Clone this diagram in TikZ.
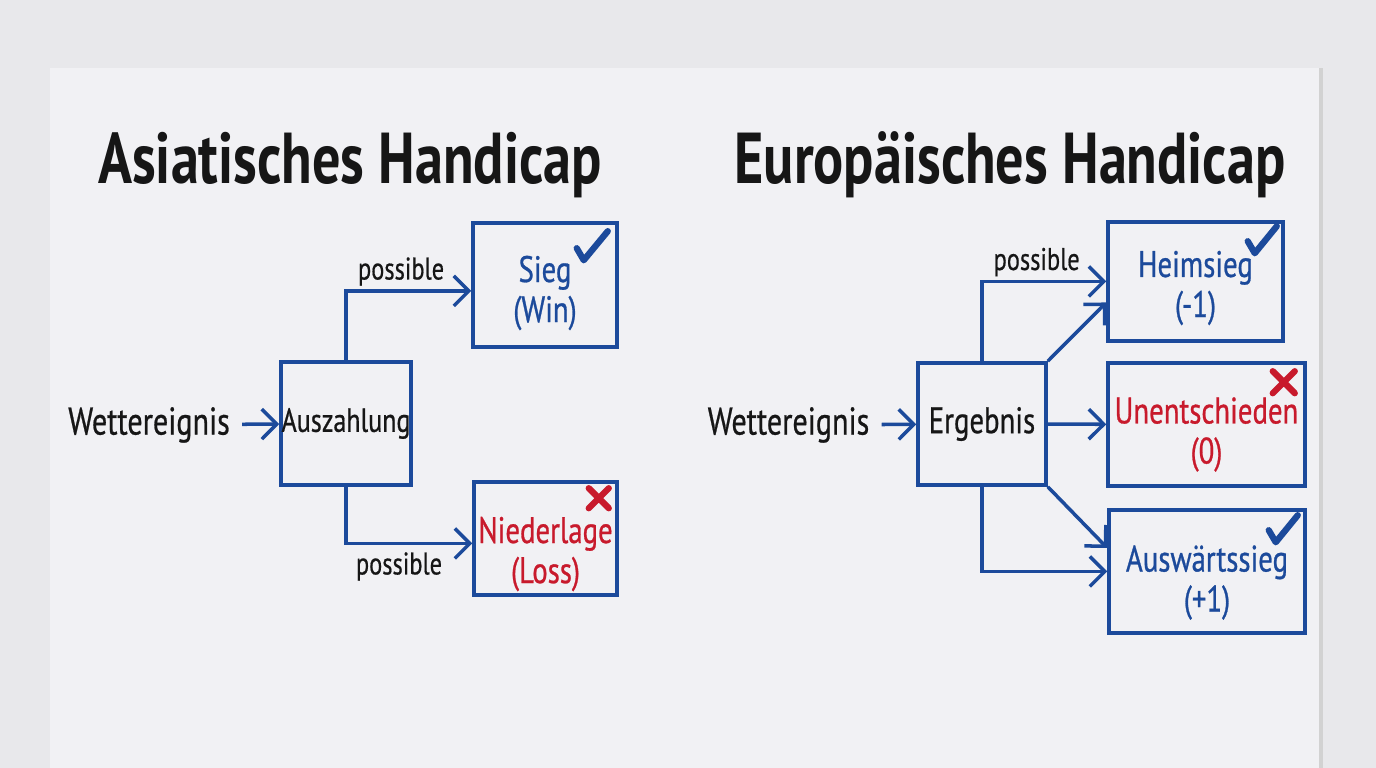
\documentclass[tikz,border=0pt]{standalone}
\usepackage{fontspec}
\setmainfont{PT Sans}[FakeStretch=0.78]
\usetikzlibrary{arrows.meta}
\definecolor{penBlue}{HTML}{1C4A9B}
\definecolor{penRed}{HTML}{C81A2C}
\definecolor{penBlack}{HTML}{161616}
\definecolor{boardGray}{HTML}{F1F1F4}
\definecolor{wallGray}{HTML}{E8E8EB}
\tikzset{
  box/.style={draw=penBlue, line width=1pt, inner sep=0pt},
  boxtext/.style={align=center, inner sep=0pt,
    font=\fontsize{10.5}{11.4}\selectfont\addfontfeature{FakeBold=0.7}},
  link/.style={draw=penBlue, line width=1pt, -{Straight Barb[length=1.5mm,width=3mm]}},
  tag/.style={inner sep=1pt, font=\fontsize{8.9}{10}\selectfont\addfontfeature{FakeBold=0.5}, text=penBlack},
  plain/.style={font=\fontsize{11}{13}\selectfont\addfontfeature{FakeBold=0.6}, text=penBlack},
  headline/.style={font=\fontsize{20.5}{24}\bfseries\selectfont, text=penBlack},
  tick/.style={draw=penBlue, line width=1.8pt, line cap=round, line join=round},
  cross/.style={draw=penRed, line width=1.8pt, line cap=round}
}

\begin{document}
\begin{tikzpicture}
    \useasboundingbox (0,0) rectangle (13.76,7.68);
    \fill[wallGray] (0,0) rectangle (13.76,7.68);
    \fill[boardGray] (0.50,0) rectangle (13.20,7.00);
    \draw[gray!35, line width=1pt] (13.21,0) -- (13.21,7.00);

    % Asiatisches Handicap
    \node[headline] (titleAsia) at (3.50,6.03) {Asiatisches Handicap};
    \node[plain] (betAsia) at (1.49,3.43) {Wettereignis};
    \node[box, minimum width=1.30cm, minimum height=1.23cm, text=penBlack,
        font=\fontsize{9.5}{11}\selectfont\addfontfeature{FakeBold=0.6}] (payout) at (3.46,3.445) {Auszahlung};
    \node[box, minimum width=1.44cm, minimum height=1.24cm] (win) at (5.45,4.83) {};
    \node[boxtext, text=penBlue] (winText) at ([yshift=-0.08cm]win.center) {Sieg\\(Win)};
    \node[box, minimum width=1.43cm, minimum height=1.13cm] (loss) at (5.455,2.295) {};
    \node[boxtext, text=penRed] (lossText) at ([yshift=-0.155cm]loss.center) {Niederlage\\(Loss)};

    \draw[link] (betAsia) -- (payout);
    \draw[link] (payout.north) |- ([yshift=-0.06cm]win.west) node[tag, pos=0.72, above=0pt] {possible};
    \draw[link] (payout.south) |- ([yshift=-0.05cm]loss.west) node[tag, pos=0.71, below=1pt] {possible};

    \draw[tick] ([shift={(-0.42,-0.27)}]win.north east) -- ++(0.07,-0.12) -- ++(0.24,0.29);
    \draw[cross] ([shift={(-0.30,-0.08)}]loss.north east) -- ++(0.20,-0.20)
        ([shift={(-0.10,-0.08)}]loss.north east) -- ++(-0.20,-0.20);

    % Europaeisches Handicap
    \node[headline] (titleEuro) at (10.10,6.03) {Europäisches Handicap};
    \node[plain] (betEuro) at (7.885,3.43) {Wettereignis};
    \node[box, minimum width=1.28cm, minimum height=1.22cm, text=penBlack,
        font=\fontsize{10.5}{12}\selectfont\addfontfeature{FakeBold=0.6}] (result) at (9.82,3.44) {Ergebnis};
    \node[box, minimum width=1.75cm, minimum height=1.19cm] (home) at (11.955,4.865) {};
    \node[boxtext, text=penBlue] (homeText) at ([yshift=-0.065cm]home.center) {Heimsieg\\(-1)};
    \node[box, minimum width=1.97cm, minimum height=1.23cm] (draw) at (12.065,3.435) {};
    \node[boxtext, text=penRed] (drawText) at ([yshift=-0.10cm]draw.center) {Unentschieden\\(0)};
    \node[box, minimum width=1.96cm, minimum height=1.23cm] (away) at (12.07,1.965) {};
    \node[boxtext, text=penBlue] (awayText) at ([yshift=-0.11cm]away.center) {Auswärtssieg\\(+1)};

    \draw[link] (betEuro) -- (result);
    \draw[link] (result.north) |- (home.west) node[tag, pos=0.72, above=0pt] {possible};
    \draw[link] (result.north east) -- ([yshift=-0.21cm]home.west);
    \draw[link] (result) -- (draw);
    \draw[link] (result.south east) -- ([yshift=0.235cm]away.west);
    \draw[link] (result.south) |- (away.west);

    \draw[tick] ([shift={(-0.37,-0.21)}]home.north east) -- ++(0.07,-0.12) -- ++(0.22,0.27);
    \draw[cross] ([shift={(-0.34,-0.10)}]draw.north east) -- ++(0.22,-0.22)
        ([shift={(-0.12,-0.10)}]draw.north east) -- ++(-0.22,-0.22);
    \draw[tick] ([shift={(-0.38,-0.22)}]away.north east) -- ++(0.07,-0.12) -- ++(0.22,0.27);
\end{tikzpicture}
\end{document}
